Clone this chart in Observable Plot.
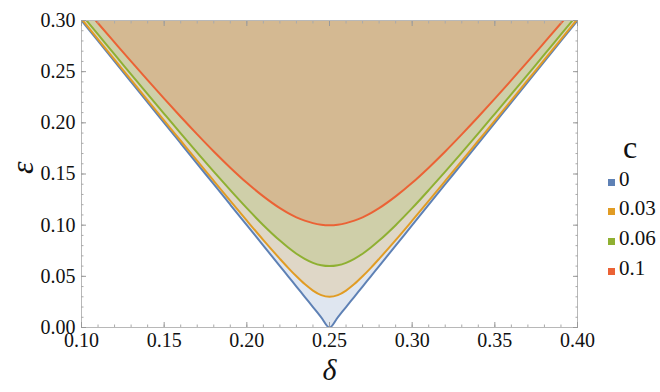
<!DOCTYPE html>
<html>
<head>
<meta charset="utf-8">
<script src="https://cdn.jsdelivr.net/npm/d3@7"></script>
<script src="https://cdn.jsdelivr.net/npm/@observablehq/plot@0.6"></script>
<style>
  body { margin: 0; background: #fff; font-family: "Liberation Serif", serif; }
  #wrap { position: relative; width: 660px; height: 392px; }
  .leg { position: absolute; font-family: "Liberation Serif", serif; color: #111; line-height: 1; }
  .sw { position: absolute; width: 7px; height: 7px; }
</style>
</head>
<body>
<div id="wrap"></div>
<script>
// Data
const deltas = [0.10,0.11,0.12,0.13,0.14,0.15,0.16,0.17,0.18,0.19,0.20,0.21,0.22,0.225,0.23,0.235,0.24,0.245,0.25,
                0.255,0.26,0.265,0.27,0.275,0.28,0.29,0.30,0.31,0.32,0.33,0.34,0.35,0.36,0.37,0.38,0.39,0.40];
const eps_c0 = [0.30,0.28,0.26,0.24,0.22,0.20,0.18,0.16,0.14,0.12,0.10,0.08,0.06,0.05,0.04,0.03,0.02,0.01,0.00,
                0.01,0.02,0.03,0.04,0.05,0.06,0.08,0.10,0.12,0.14,0.16,0.18,0.20,0.22,0.24,0.26,0.28,0.30];
const eps_c03 = [0.3015,0.2816,0.2617,0.2419,0.2220,0.2022,0.1825,0.1628,0.1432,0.1237,0.1044,0.0854,0.0671,0.0583,0.0500,0.0424,0.0361,0.0316,0.0300,
                 0.0316,0.0361,0.0424,0.0500,0.0583,0.0671,0.0854,0.1044,0.1237,0.1432,0.1628,0.1825,0.2022,0.2220,0.2419,0.2617,0.2816,0.3015];
const eps_c06 = [0.3059,0.2864,0.2668,0.2474,0.2280,0.2088,0.1897,0.1709,0.1523,0.1342,0.1166,0.1000,0.0849,0.0781,0.0721,0.0671,0.0632,0.0608,0.0600,
                 0.0608,0.0632,0.0671,0.0721,0.0781,0.0849,0.1000,0.1166,0.1342,0.1523,0.1709,0.1897,0.2088,0.2280,0.2474,0.2668,0.2864,0.3059];
const eps_c10 = [0.3162,0.2973,0.2786,0.2600,0.2417,0.2236,0.2059,0.1887,0.1720,0.1562,0.1414,0.1281,0.1166,0.1118,0.1077,0.1044,0.1020,0.1005,0.1000,
                 0.1005,0.1020,0.1044,0.1077,0.1118,0.1166,0.1281,0.1414,0.1562,0.1720,0.1887,0.2059,0.2236,0.2417,0.2600,0.2786,0.2973,0.3162];
const seriesNames = ["0", "0.03", "0.06", "0.1"];
const seriesValues = [eps_c0, eps_c03, eps_c06, eps_c10];
const colors = ["#5E81B5", "#E19C24", "#8FB032", "#EB6235"];
const xMajor = [0.10,0.15,0.20,0.25,0.30,0.35,0.40];
const yMajor = [0.00,0.05,0.10,0.15,0.20,0.25,0.30];
const xMinor = d3.range(10, 41).map(v => v / 100);
const yMinor = d3.range(0, 31).map(v => v / 100);
const xDomain = [0.10, 0.40];
const yDomain = [0.00, 0.30];
const xTitle = "δ";
const yTitle = "ε";
const legendTitle = "c";

const rows = [];
seriesValues.forEach((vals, i) => {
  deltas.forEach((d, j) => rows.push({c: seriesNames[i], delta: d, eps: vals[j], top: yDomain[1]}));
});

const marks = [];
seriesNames.forEach((name, i) => {
  marks.push(Plot.areaY(rows.filter(r => r.c === name), {
    x: "delta", y1: "eps", y2: "top", fill: colors[i], fillOpacity: 0.2, curve: "monotone-x", clip: true
  }));
});
seriesNames.forEach((name, i) => {
  marks.push(Plot.line(rows.filter(r => r.c === name), {
    x: "delta", y: "eps", stroke: colors[i], strokeWidth: 2, curve: "monotone-x", clip: true
  }));
});
marks.push(Plot.frame({stroke: "#b8b8b8", strokeWidth: 1}));
// minor ticks
marks.push(Plot.axisX(xMinor, {anchor: "bottom", tickSize: -2.5, stroke: "#aaa", text: null, label: null}));
marks.push(Plot.axisX(xMinor, {anchor: "top", tickSize: -2.5, stroke: "#aaa", text: null, label: null}));
marks.push(Plot.axisY(yMinor, {anchor: "left", tickSize: -2.5, stroke: "#aaa", text: null, label: null}));
marks.push(Plot.axisY(yMinor, {anchor: "right", tickSize: -2.5, stroke: "#aaa", text: null, label: null}));
// major ticks
marks.push(Plot.axisX(xMajor, {anchor: "bottom", tickSize: -5, stroke: "#999", text: null, label: null}));
marks.push(Plot.axisX(xMajor, {anchor: "top", tickSize: -5, stroke: "#999", text: null, label: null}));
marks.push(Plot.axisY(yMajor, {anchor: "left", tickSize: -5, stroke: "#999", text: null, label: null}));
marks.push(Plot.axisY(yMajor, {anchor: "right", tickSize: -5, stroke: "#999", text: null, label: null}));
// tick labels
marks.push(Plot.axisX(xMajor, {anchor: "bottom", tickSize: 0, tickPadding: 5, tickFormat: d3.format(".2f"),
  fontSize: 20, fill: "#111", label: null}));
marks.push(Plot.axisY(yMajor, {anchor: "left", tickSize: 0, tickPadding: 6, tickFormat: d3.format(".2f"),
  fontSize: 20, fill: "#111", label: null}));
// axis titles
marks.push(Plot.text([xTitle], {frameAnchor: "bottom", dy: 52, fontSize: 30, fontStyle: "italic", fill: "#111", text: d => d}));
marks.push(Plot.text([yTitle], {frameAnchor: "left", dx: -59, rotate: -90, fontSize: 32, fontStyle: "italic", fill: "#111", text: d => d}));

const plot = Plot.plot({
  width: 660, height: 392,
  marginLeft: 81, marginRight: 83, marginTop: 20, marginBottom: 65,
  style: {fontFamily: "'Liberation Serif', serif", background: "#fff"},
  x: {domain: xDomain},
  y: {domain: yDomain},
  marks
});
const wrap = document.getElementById("wrap");
wrap.appendChild(plot);

// legend
const leg = document.createElement("div");
leg.className = "leg";
leg.style.left = "623px"; leg.style.top = "131px"; leg.style.fontSize = "32px";
leg.textContent = legendTitle;
wrap.appendChild(leg);
const itemY = [181, 210, 240, 270];
seriesNames.forEach((name, i) => {
  const sw = document.createElement("div");
  sw.className = "sw";
  sw.style.left = "608px"; sw.style.top = (itemY[i] - 2) + "px"; sw.style.background = colors[i];
  wrap.appendChild(sw);
  const t = document.createElement("div");
  t.className = "leg";
  t.style.left = "619px"; t.style.top = (itemY[i] - 12) + "px"; t.style.fontSize = "21px";
  t.textContent = name;
  wrap.appendChild(t);
});
</script>
</body>
</html>
